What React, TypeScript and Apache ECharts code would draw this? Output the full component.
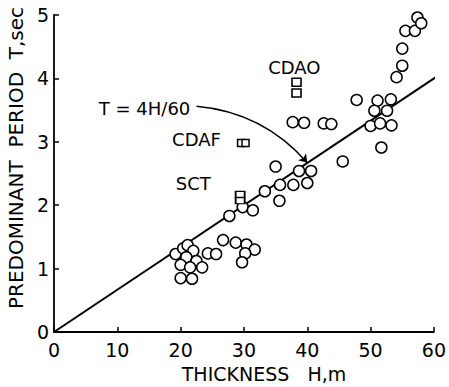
import React, { useEffect, useRef } from "react";
import * as echarts from "echarts";

// Observed sites (H in m, T in sec) – open circles
const sitePoints: [number, number][] = [
  [19.2, 1.23], [20.4, 1.32], [21.1, 1.37], [22.0, 1.28], [20.9, 1.18], [22.5, 1.12],
  [20.0, 1.06], [21.5, 1.02], [23.4, 1.02], [20.0, 0.85], [21.8, 0.84], [24.3, 1.24],
  [25.6, 1.23], [26.7, 1.45], [28.7, 1.41], [30.4, 1.38], [31.7, 1.30], [30.2, 1.24],
  [29.7, 1.10],
  [27.7, 1.83], [29.8, 1.97], [31.4, 1.92], [33.3, 2.22], [35.6, 2.07], [35.7, 2.32],
  [37.8, 2.32], [40.0, 2.35], [35.0, 2.61], [38.7, 2.54], [40.6, 2.54], [45.6, 2.69],
  [37.7, 3.31], [39.5, 3.30], [42.6, 3.29], [43.8, 3.28], [47.8, 3.66], [51.1, 3.65],
  [53.2, 3.67], [50.6, 3.49], [52.6, 3.49], [50.0, 3.25], [51.5, 3.29], [53.3, 3.26],
  [51.7, 2.91], [54.1, 4.02], [55.0, 4.20], [55.0, 4.47], [55.5, 4.75], [57.0, 4.75],
  [57.4, 4.96], [58.0, 4.87],
];

// Special sites – open squares
const cdaoPoints: [number, number][] = [[38.3, 3.94], [38.3, 3.77]];
const cdafPoints: [number, number][] = [[29.55, 2.98], [30.25, 2.98]];
const sctPoints: [number, number][] = [[29.4, 2.17], [29.4, 2.07]];

// Relation T = 4H/60
const relationLine: [number, number][] = [[0, 0], [62, 62 * 4 / 60]];

// Annotation text anchors (data coordinates)
const labelPoints: { name: string; value: [number, number] }[] = [
  { name: "T = 4H/60", value: [14.3, 3.53] },
  { name: "CDAO", value: [37.95, 4.17] },
  { name: "CDAF", value: [22.5, 3.03] },
  { name: "SCT", value: [22.0, 2.35] },
];
const arrowCoords: [number, number][] = [[22.5, 3.56], [40.0, 2.67]];

const xTicks = [0, 10, 20, 30, 40, 50, 60];
const yTicks = [0, 1, 2, 3, 4, 5];

const FONT = "DejaVu Sans";

export default function App() {
  const ref = useRef<HTMLDivElement>(null);
  useEffect(() => {
    if (!ref.current) return;
    const chart = echarts.init(ref.current, null, { renderer: "svg" });
    const axisCommon = {
      axisLine: { show: true, onZero: false, lineStyle: { color: "#000", width: 1.8 } },
      axisTick: { show: true, inside: true, length: 5, lineStyle: { color: "#000", width: 1.5 } },
      splitLine: { show: false },
    };
    const squareStyle = { color: "#fff", borderColor: "#000", borderWidth: 1.5, opacity: 1 };
    chart.setOption({
      animation: false,
      backgroundColor: "#fff",
      grid: { left: 54, right: 14, top: 15, bottom: 55, containLabel: false },
      xAxis: {
        type: "value",
        min: xTicks[0],
        max: xTicks[xTicks.length - 1],
        interval: 10,
        ...axisCommon,
        axisLabel: { color: "#000", fontSize: 19, fontFamily: FONT, margin: 8 },
      },
      yAxis: {
        type: "value",
        min: yTicks[0],
        max: yTicks[yTicks.length - 1],
        interval: 1,
        ...axisCommon,
        axisLabel: { color: "#000", fontSize: 19, fontFamily: FONT, margin: 5 },
      },
      graphic: [
        {
          type: "text",
          x: 16,
          y: 158,
          rotation: Math.PI / 2,
          style: {
            text: "PREDOMINANT  PERIOD  T,sec",
            font: `20px ${FONT}`,
            fill: "#000",
            align: "center",
            verticalAlign: "middle",
          },
        },
        {
          type: "text",
          x: 264,
          y: 374,
          style: {
            text: "THICKNESS   H,m",
            font: `19px ${FONT}`,
            fill: "#000",
            align: "center",
            verticalAlign: "middle",
          },
        },
      ],
      series: [
        {
          type: "line",
          data: relationLine,
          clip: false,
          showSymbol: false,
          symbol: "none",
          lineStyle: { color: "#000", width: 2 },
          z: 1,
        },
        {
          type: "lines",
          coordinateSystem: "cartesian2d",
          data: [{ coords: arrowCoords }],
          symbol: ["none", "arrow"],
          symbolSize: 8,
          lineStyle: { color: "#000", width: 1.6, curveness: 0.2, opacity: 1 },
          z: 1,
        },
        {
          type: "scatter",
          data: sitePoints,
          symbol: "circle",
          symbolSize: 11,
          itemStyle: { color: "#fff", borderColor: "#000", borderWidth: 1.5, opacity: 1 },
          z: 3,
        },
        {
          type: "scatter",
          data: cdaoPoints,
          symbol: "rect",
          symbolSize: [9, 8],
          itemStyle: squareStyle,
          z: 3,
        },
        {
          type: "scatter",
          data: cdafPoints,
          symbol: "rect",
          symbolSize: [7, 7],
          itemStyle: squareStyle,
          z: 3,
        },
        {
          type: "scatter",
          data: sctPoints,
          symbol: "rect",
          symbolSize: [9, 6],
          itemStyle: squareStyle,
          z: 3,
        },
        {
          type: "scatter",
          data: labelPoints,
          symbolSize: 1,
          itemStyle: { color: "rgba(0,0,0,0)", opacity: 1 },
          label: {
            show: true,
            position: "inside",
            formatter: (p: any) => p.name,
            color: "#000",
            opacity: 1,
            fontSize: 18,
            fontFamily: FONT,
          },
          z: 4,
        },
      ],
    });
    return () => chart.dispose();
  }, []);
  return (
    <div
      ref={ref}
      style={{ position: "fixed", left: 0, top: 0, width: 449, height: 387, background: "#fff" }}
    />
  );
}
